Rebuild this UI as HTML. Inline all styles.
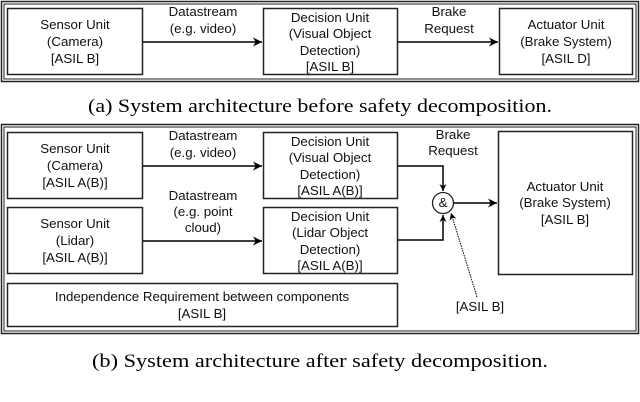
<!DOCTYPE html>
<html><head><meta charset="utf-8"><style>
html,body{margin:0;padding:0;background:#fff;}
svg{display:block}
.t{font-family:"Liberation Sans",sans-serif;font-size:13.3px;fill:#111;text-anchor:middle}
.c{font-family:"Liberation Serif",serif;font-size:18.5px;fill:#000;text-anchor:middle}
</style></head><body>
<svg width="640" height="402" viewBox="0 0 640 402" xmlns="http://www.w3.org/2000/svg">
<defs><marker id="a" viewBox="0 0 10 10" refX="10" refY="5" markerWidth="7" markerHeight="7" orient="auto" markerUnits="userSpaceOnUse"><path d="M0,0L10,5L0,10L3,5z" fill="#000"/></marker>
<marker id="b" viewBox="0 0 10 10" refX="10" refY="5" markerWidth="9" markerHeight="9" orient="auto" markerUnits="userSpaceOnUse"><path d="M0,0L10,5L0,10L3,5z" fill="#000"/></marker></defs>
<g fill="none" stroke="#222">
<rect x="1.5" y="1.5" width="637" height="80" stroke-width="1.5"/>
<rect x="4" y="4" width="632" height="75" stroke-width="1"/>
<rect x="7.5" y="8.5" width="135" height="66" stroke-width="1.5"/>
<rect x="263.5" y="8.5" width="134" height="66" stroke-width="1.5"/>
<rect x="499.5" y="8.5" width="133" height="66" stroke-width="1.5"/>
<rect x="1.5" y="124.5" width="637" height="209" stroke-width="1.5"/>
<rect x="4" y="127" width="632" height="204" stroke-width="1"/>
<rect x="7.5" y="132.5" width="135" height="66" stroke-width="1.5"/>
<rect x="7.5" y="207.5" width="135" height="66" stroke-width="1.5"/>
<rect x="7.5" y="283.5" width="390" height="43" stroke-width="1.5"/>
<rect x="263.5" y="132.5" width="134" height="66" stroke-width="1.5"/>
<rect x="263.5" y="207.5" width="134" height="66" stroke-width="1.5"/>
<rect x="498.5" y="131.5" width="134" height="143" stroke-width="1.5"/>
<circle cx="443" cy="203" r="10.5" stroke-width="1.3"/>
</g>
<g stroke="#000" stroke-width="1.5" fill="none">
<line x1="143" y1="42" x2="262" y2="42" marker-end="url(#b)"/>
<line x1="398" y1="42" x2="498" y2="42" marker-end="url(#b)"/>
<line x1="143" y1="166" x2="262" y2="166" marker-end="url(#b)"/>
<line x1="143" y1="241" x2="262" y2="241" marker-end="url(#b)"/>
<polyline points="398,166 443,166 443,191" marker-end="url(#a)"/>
<polyline points="398,240 443,240 443,215" marker-end="url(#a)"/>
<line x1="454" y1="203" x2="497" y2="203" marker-end="url(#b)"/>
<line x1="477" y1="297" x2="451" y2="213" stroke-width="1" stroke-dasharray="1.5,1" marker-end="url(#a)"/>
</g>
<g class="t">
<text x="75" y="29">Sensor Unit</text><text x="75" y="46">(Camera)</text><text x="75" y="63">[ASIL B]</text>
<text x="203" y="16">Datastream</text><text x="203" y="33">(e.g. video)</text>
<text x="330" y="22">Decision Unit</text><text x="330" y="38">(Visual Object</text><text x="330" y="55">Detection)</text><text x="330" y="71">[ASIL B]</text>
<text x="449" y="16">Brake</text><text x="449" y="33">Request</text>
<text x="566" y="29">Actuator Unit</text><text x="566" y="46">(Brake System)</text><text x="566" y="63">[ASIL D]</text>

<text x="75" y="153">Sensor Unit</text><text x="75" y="170">(Camera)</text><text x="75" y="187">[ASIL A(B)]</text>
<text x="203" y="140">Datastream</text><text x="203" y="157">(e.g. video)</text>
<text x="330" y="146">Decision Unit</text><text x="330" y="162">(Visual Object</text><text x="330" y="179">Detection)</text><text x="330" y="195">[ASIL A(B)]</text>
<text x="75" y="228">Sensor Unit</text><text x="75" y="245">(Lidar)</text><text x="75" y="262">[ASIL A(B)]</text>
<text x="203" y="200">Datastream</text><text x="203" y="216">(e.g. point</text><text x="203" y="232">cloud)</text>
<text x="330" y="221">Decision Unit</text><text x="330" y="237">(Lidar Object</text><text x="330" y="254">Detection)</text><text x="330" y="270">[ASIL A(B)]</text>
<text x="202" y="301">Independence Requirement between components</text><text x="202" y="318">[ASIL B]</text>
<text x="453" y="139">Brake</text><text x="453" y="155">Request</text>
<text x="443" y="207">&amp;</text>
<text x="565" y="191">Actuator Unit</text><text x="565" y="207">(Brake System)</text><text x="565" y="224">[ASIL B]</text>
<text x="480" y="311">[ASIL B]</text>
</g>
<text class="c" x="320" y="112" textLength="464" lengthAdjust="spacingAndGlyphs">(a) System architecture before safety decomposition.</text>
<text class="c" x="320" y="367" textLength="456" lengthAdjust="spacingAndGlyphs">(b) System architecture after safety decomposition.</text>
</svg>
</body></html>
